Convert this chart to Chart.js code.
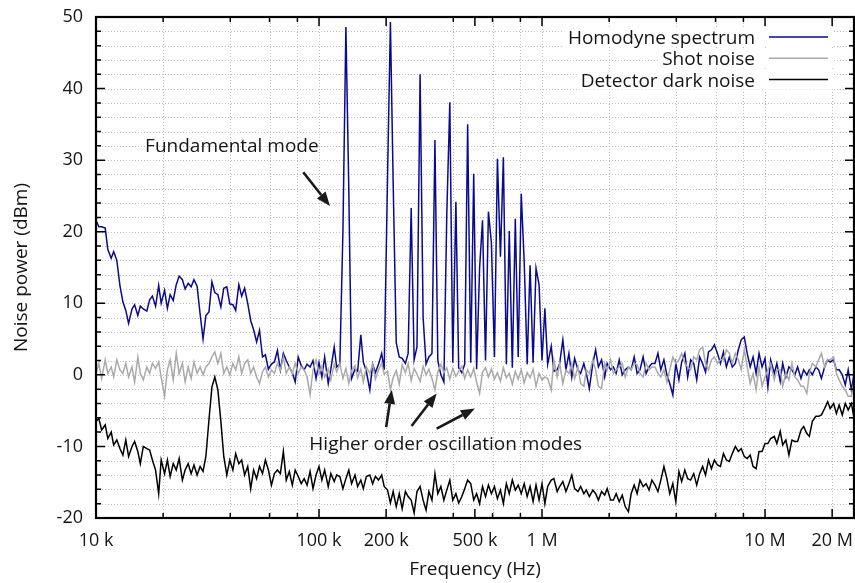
<!DOCTYPE html>
<html>
<head>
<meta charset="utf-8">
<script src="https://cdn.jsdelivr.net/npm/chart.js@4.4.1/dist/chart.umd.min.js"></script>
<style>
  html, body { margin: 0; padding: 0; background: #fff; }
  #wrap { width: 855px; height: 583px; }
</style>
</head>
<body>
<div id="wrap"><canvas id="spectrumChart"></canvas></div>

<script>
  // sweep frequencies in kHz (log spaced, 75 points per decade)
  const freqKHz = [
    10.0, 10.3, 10.6, 11.0, 11.3, 11.7, 12.0, 12.4, 12.8, 13.2,
    13.6, 14.0, 14.5, 14.9, 15.4, 15.8, 16.3, 16.9, 17.4, 17.9,
    18.5, 19.1, 19.6, 20.3, 20.9, 21.5, 22.2, 22.9, 23.6, 24.4,
    25.1, 25.9, 26.7, 27.5, 28.4, 29.3, 30.2, 31.1, 32.1, 33.1,
    34.1, 35.2, 36.3, 37.4, 38.6, 39.8, 41.1, 42.3, 43.7, 45.0,
    46.4, 47.9, 49.4, 50.9, 52.5, 54.1, 55.8, 57.5, 59.3, 61.2,
    63.1, 65.1, 67.1, 69.2, 71.3, 73.6, 75.9, 78.2, 80.7, 83.2,
    85.8, 88.4, 91.2, 94.0, 97.0,
    100, 103, 106, 110, 113, 117, 120, 124, 128, 132,
    136, 140, 145, 149, 154, 158, 163, 169, 174, 179,
    185, 191, 196, 203, 209, 215, 222, 229, 236, 244,
    251, 259, 267, 275, 284, 293, 302, 311, 321, 331,
    341, 352, 363, 374, 386, 398, 411, 423, 437, 450,
    464, 479, 494, 509, 525, 541, 558, 575, 593, 612,
    631, 651, 671, 692, 713, 736, 759, 782, 807, 832,
    858, 884, 912, 940, 970,
    1000, 1030, 1060, 1100, 1130, 1170, 1200, 1240, 1280, 1320,
    1360, 1400, 1450, 1490, 1540, 1580, 1630, 1690, 1740, 1790,
    1850, 1910, 1960, 2030, 2090, 2150, 2220, 2290, 2360, 2440,
    2510, 2590, 2670, 2750, 2840, 2930, 3020, 3110, 3210, 3310,
    3410, 3520, 3630, 3740, 3860, 3980, 4110, 4230, 4370, 4500,
    4640, 4790, 4940, 5090, 5250, 5410, 5580, 5750, 5930, 6120,
    6310, 6510, 6710, 6920, 7130, 7360, 7590, 7820, 8070, 8320,
    8580, 8840, 9120, 9400, 9700,
    10000, 10300, 10600, 11000, 11300, 11700, 12000, 12400, 12800, 13200,
    13600, 14000, 14500, 14900, 15400, 15800, 16300, 16900, 17400, 17900,
    18500, 19100, 19600, 20300, 20900, 21500, 22200, 22900, 23600, 24400,
    25100
  ];

  // noise power in dBm, one value per frequency
  const homodyne = [
    21.6, 20.7, 20.7, 20.5, 17.5, 16.3, 17.2, 16.0, 12.5, 10.2,
    9.0, 7.2, 9.2, 9.8, 8.3, 9.6, 9.2, 8.9, 10.5, 11.0,
    9.6, 12.5, 10.0, 11.8, 9.3, 11.2, 10.4, 12.6, 13.8, 13.3,
    12.0, 12.8, 12.3, 13.3, 12.4, 8.5, 5.0, 8.3, 8.8, 13.0,
    11.5, 11.2, 9.5, 12.1, 12.3, 9.9, 9.8, 9.0, 12.6, 11.0,
    12.1, 10.0, 7.6, 6.3, 4.6, 6.2, 2.5, 2.8, 0.8, 1.5,
    1.8, 3.4, 0.7, 3.0, 2.0, 1.1, 0.3, -1.0, 2.5, 1.3,
    0.7, 1.5, 1.1, 2.0, -0.5, 1.7, -0.3, 2.5, -1.2, 0.8,
    3.9, 1.1, 1.5, 20.0, 48.6, 26.0, -0.5, 0.8, 0.5, 5.6,
    1.8, 0.5, -2.1, 1.5, 0.3, 1.5, 3.0, 0.7, 28.0, 49.3,
    27.0, 4.5, 2.5, 2.3, 1.6, 3.0, 23.3, 2.1, 3.9, 42.0,
    8.0, 1.5, 2.5, 3.0, 32.8, 2.0, 0.0, -1.0, 22.3, 38.1,
    1.7, 24.2, 1.0, 0.3, 1.5, 35.0, 1.7, 28.1, 0.8, 15.0,
    21.6, 2.0, 22.8, 18.4, 2.5, 30.2, 16.5, 30.4, 1.5, 20.1,
    1.0, 21.8, 2.5, 25.3, 15.8, 1.5, 15.3, 1.7, 14.9, 12.6,
    2.0, 9.3, 1.5, 4.0, 0.5, 0.7, 1.6, 4.9, 0.7, 3.0,
    -0.3, 2.3, 0.7, 0.2, 1.6, 0.2, -1.9, 1.6, 3.5, 1.1,
    2.1, -0.3, 1.6, 0.7, 1.1, 0.2, 2.1, 0.0, 0.7, 1.1,
    0.7, 2.5, 0.2, 0.7, 2.5, 0.2, 1.1, 1.6, 1.6, 3.0,
    0.7, 2.1, 0.0, -1.2, -2.8, 1.6, -0.7, 1.8, 3.0, -0.3,
    2.1, 1.6, -0.7, 2.5, 1.6, 0.4, 3.2, 3.5, 4.2, 3.0,
    1.6, 3.2, 1.1, 2.5, 1.1, 1.6, 3.5, 4.9, 5.3, 3.0,
    1.1, 2.5, 0.2, 3.0, 1.1, 2.3, -1.7, 2.1, 0.2, 1.6,
    -0.9, 1.6, -0.3, 1.1, 0.7, 0.0, 1.1, -0.5, 0.7, 0.0,
    0.7, 0.0, 1.1, 0.7, -0.5, 1.1, 2.1, 1.8, 2.1, 0.7,
    0.7, 0.0, -1.4, 0.7, -2.1, 0.2
  ];

  const shotNoise = [
    0.2, 1.6, -0.5, 2.1, 0.2, 1.1, -0.3, 2.1, 0.7, 0.2,
    1.6, -0.3, 1.1, -1.0, 2.5, 0.2, -0.7, 1.1, 0.2, 1.6,
    0.9, 1.8, -0.3, -3.0, 0.7, 2.1, -0.7, 3.0, 0.2, 1.6,
    -1.0, 1.1, -0.5, 1.8, 0.2, 1.1, 0.0, 1.1, 1.6, 2.5,
    3.2, 1.6, 3.0, 0.2, 1.1, 0.0, 1.6, 0.7, 2.5, 0.2,
    1.6, 2.1, 0.2, 1.1, -0.3, -1.2, 0.4, 1.1, -0.3, 0.7,
    0.2, 1.6, 0.7, 2.5, 0.2, 1.1, 0.2, 1.6, 0.2, 1.1,
    0.7, -0.3, -2.8, 0.7, 2.1, 0.2, 1.2, -0.3, 0.8, -0.7,
    1.5, 0.4, 1.6, -0.5, 0.9, -1.2, 0.6, 1.3, -0.4, 0.8,
    -1.0, 1.1, 0.2, 1.5, -0.6, 0.7, 1.6, 0.1, 0.5, -2.1,
    -0.4, 0.6, -1.3, 1.4, 0.3, 1.6, -0.8, 0.9, 0.1, -0.9,
    1.2, 0.0, 0.8, -0.5, -2.1, 0.4, 1.5, 0.3, 1.0, -0.6,
    0.9, -0.2, 0.5, 1.2, -0.5, 0.7, -0.3, 0.9, -1.0, -2.6,
    0.4, 1.0, -0.3, 0.8, -0.6, 0.3, -0.9, 1.0, -0.4, 0.2,
    -1.3, 0.5, -0.6, 0.7, -1.1, 0.3, -0.4, 0.8, -1.6, 0.2,
    -0.7, -0.3, -0.5, -2.1, 2.1, -0.3, 1.6, -1.2, 0.7, 0.2,
    1.6, -0.5, 1.1, -1.2, -1.6, 0.7, 0.2, 2.1, 0.7, -1.6,
    -1.9, 1.6, 0.7, 2.1, 0.2, 0.7, 1.1, 1.6, -0.3, 1.1,
    0.7, 1.6, 1.4, 0.2, -0.3, 1.6, 0.7, 1.1, 1.1, 0.2,
    -0.3, 0.7, -1.0, 0.7, 2.5, 1.6, 2.1, 3.0, 1.6, 1.1,
    0.7, 2.5, 2.1, 3.5, 3.9, 1.6, 0.7, 2.1, 2.5, 1.6,
    2.1, 2.1, 3.5, 3.0, 1.6, 3.0, 2.1, 0.7, 3.5, 1.1,
    -1.2, 0.2, -2.1, 1.1, -1.6, -0.3, 0.7, 1.6, -0.7, 0.7,
    0.7, -1.6, 0.2, -0.7, 1.6, -0.3, -0.7, -1.6, -1.6, -2.6,
    0.2, 1.6, 1.1, 2.1, 3.0, 1.1, 2.1, 2.1, 2.5, 0.2,
    -0.7, -1.6, -2.1, -3.0, -3.0, -0.7
  ];

  const darkNoise = [
    -6.5, -6.1, -7.7, -7.0, -8.9, -8.0, -9.8, -9.1, -10.3, -11.2,
    -9.1, -11.4, -10.0, -9.3, -10.7, -12.4, -10.0, -10.3, -10.5, -11.9,
    -13.3, -16.6, -11.9, -13.8, -11.9, -14.2, -12.4, -13.3, -11.7, -14.7,
    -13.3, -12.4, -13.8, -12.6, -14.0, -12.8, -13.5, -11.4, -6.3, -1.7,
    -0.3, -2.1, -6.5, -11.4, -14.0, -11.9, -13.3, -11.0, -12.4, -11.9,
    -14.0, -12.8, -15.9, -13.3, -14.5, -12.8, -13.8, -11.9, -13.3, -15.4,
    -13.8, -13.3, -13.8, -10.7, -14.7, -13.5, -15.4, -13.3, -14.2, -15.2,
    -14.5, -15.4, -13.5, -15.9, -14.0, -12.8, -14.7, -13.3, -15.6, -13.8,
    -14.9, -14.0, -14.2, -15.9, -14.5, -13.3, -15.2, -14.0, -15.6, -14.7,
    -15.9, -14.2, -14.0, -15.2, -14.2, -14.7, -14.0, -15.6, -16.1, -17.9,
    -16.3, -18.4, -16.6, -18.7, -16.3, -17.0, -17.5, -19.3, -16.3, -15.6,
    -17.5, -18.9, -16.3, -17.5, -13.8, -16.6, -15.6, -17.5, -16.1, -14.7,
    -17.5, -16.6, -17.9, -17.0, -15.9, -14.7, -15.2, -17.5, -16.6, -18.0,
    -15.6, -17.0, -15.4, -16.6, -15.6, -17.3, -16.1, -18.0, -15.2, -16.6,
    -14.7, -16.1, -15.4, -16.6, -15.2, -17.0, -15.6, -17.7, -15.4, -17.5,
    -15.2, -18.0, -15.6, -14.7, -14.5, -16.3, -15.6, -14.9, -16.3, -15.2,
    -14.0, -15.9, -16.3, -15.6, -16.6, -16.1, -17.0, -16.1, -16.6, -17.5,
    -16.3, -16.8, -15.9, -17.5, -17.5, -16.6, -17.7, -16.8, -18.4, -19.1,
    -16.6, -15.4, -16.6, -14.7, -15.6, -15.2, -16.1, -14.7, -15.4, -16.3,
    -14.7, -12.8, -14.5, -16.6, -15.2, -17.7, -13.5, -14.9, -13.3, -14.5,
    -14.7, -13.8, -15.4, -13.8, -12.8, -14.0, -11.9, -13.1, -11.9, -12.6,
    -12.8, -11.0, -11.9, -12.1, -11.0, -10.0, -10.7, -10.3, -11.4, -11.7,
    -11.2, -12.8, -13.1, -10.7, -10.7, -9.6, -9.6, -8.9, -8.6, -9.6,
    -7.9, -9.8, -9.1, -11.2, -9.1, -9.3, -9.3, -7.7, -7.2, -8.2,
    -8.6, -6.5, -5.8, -5.8, -5.6, -4.7, -3.75, -4.7, -4.0, -5.4,
    -4.2, -5.6, -4.0, -4.9, -4.0, -6.1
  ];

  const seriesNames = ['Homodyne spectrum', 'Shot noise', 'Detector dark noise'];
  const seriesColors = ['#0a0a8e', '#a9a9a9', '#000000'];

  // x axis: tick positions (Hz), labelled ones and dotted grid positions
  const xTickValues = [1e4, 2e4, 4e4, 6e4, 8e4, 1e5, 2e5, 4e5, 5e5, 6e5, 8e5,
                       1e6, 2e6, 4e6, 6e6, 8e6, 1e7, 2e7];
  const xTickLabels = {1e4: '10 k', 1e5: '100 k', 2e5: '200 k', 5e5: '500 k',
                       1e6: '1 M', 1e7: '10 M', 2e7: '20 M'};
  const xGridValues = [2e4, 4e4, 6e4, 8e4, 1e5, 2e5, 4e5, 6e5, 8e5,
                       1e6, 2e6, 4e6, 6e6, 8e6, 1e7, 2e7];

  // annotations, in data coordinates (Hz, dBm)
  const noteTexts = ['Fundamental mode', 'Higher order oscillation modes'];
  const noteFreq = [16.6e3, 90.5e3];
  const noteLevel = [31.9, -9.8];
  // arrows: [fromHz, fromDbm, toHz, toDbm]
  const arrows = [
    [85.0e3, 28.3, 112e3, 23.6],
    [200e3, -7.3, 212e3, -2.1],
    [260e3, -7.15, 337e3, -2.6],
    [337e3, -7.5, 500e3, -4.7]
  ];

  const font = "'Open Sans', sans-serif";
  const textColor = '#151515';

  const toPoints = (vals) => freqKHz.map((f, i) => ({x: f * 1000, y: vals[i]}));

  // dotted grid underneath, frame + inward tick marks on top
  const frameAndGrid = {
    id: 'frameAndGrid',
    beforeDatasetsDraw(chart) {
      const {ctx, chartArea: a, scales: {x, y}} = chart;
      ctx.save();
      ctx.strokeStyle = '#bdbdbd';
      ctx.lineWidth = 1;
      ctx.setLineDash([1, 2]);
      xGridValues.forEach((v) => {
        const px = Math.round(x.getPixelForValue(v)) + 0.5;
        ctx.beginPath();
        ctx.moveTo(px, a.top);
        ctx.lineTo(px, a.bottom);
        ctx.stroke();
      });
      y.ticks.forEach((t) => {
        if (t.value <= y.min || t.value >= y.max) return;
        const py = Math.round(y.getPixelForValue(t.value)) + 0.5;
        ctx.beginPath();
        ctx.moveTo(a.left, py);
        ctx.lineTo(a.right, py);
        ctx.stroke();
      });
      ctx.restore();
    },
    afterDatasetsDraw(chart) {
      const {ctx, chartArea: a, scales: {x, y}} = chart;
      ctx.save();
      ctx.strokeStyle = '#000';
      ctx.lineWidth = 1.5;
      x.ticks.forEach((t) => {
        const px = x.getPixelForValue(t.value);
        const len = xTickLabels[t.value] ? 9 : 5;
        ctx.beginPath();
        ctx.moveTo(px, a.bottom); ctx.lineTo(px, a.bottom - len);
        ctx.moveTo(px, a.top); ctx.lineTo(px, a.top + len);
        ctx.stroke();
      });
      y.ticks.forEach((t) => {
        const py = y.getPixelForValue(t.value);
        const len = t.value % 10 === 0 ? 9 : 5;
        ctx.beginPath();
        ctx.moveTo(a.left, py); ctx.lineTo(a.left + len, py);
        ctx.moveTo(a.right, py); ctx.lineTo(a.right - len, py);
        ctx.stroke();
      });
      ctx.lineWidth = 2.2;
      ctx.strokeRect(a.left, a.top, a.right - a.left, a.bottom - a.top);
      ctx.restore();
    }
  };

  // key in the top right corner: text, then a short line sample
  const sideLegend = {
    id: 'sideLegend',
    afterDraw(chart) {
      const {ctx, chartArea: a} = chart;
      ctx.save();
      ctx.font = '19px ' + font;
      ctx.textAlign = 'right';
      ctx.textBaseline = 'middle';
      chart.data.datasets.forEach((ds, k) => {
        const yy = a.top + 20 + k * 21.3;
        const textRight = a.right - 99;
        const w = ctx.measureText(ds.label).width;
        ctx.fillStyle = '#fff';
        ctx.fillRect(textRight - w - 4, yy - 10, w + 4 + 99 - 20, 20);
        ctx.fillStyle = textColor;
        ctx.fillText(ds.label, textRight, yy + 1.5);
        ctx.strokeStyle = ds.borderColor;
        ctx.lineWidth = 1.5;
        ctx.beginPath();
        ctx.moveTo(a.right - 85, yy);
        ctx.lineTo(a.right - 26, yy);
        ctx.stroke();
      });
      ctx.restore();
    }
  };

  const notesAndArrows = {
    id: 'notesAndArrows',
    afterDraw(chart) {
      const {ctx, scales: {x, y}} = chart;
      ctx.save();
      ctx.font = '19px ' + font;
      ctx.fillStyle = textColor;
      ctx.textAlign = 'left';
      ctx.textBaseline = 'middle';
      noteTexts.forEach((txt, i) => {
        ctx.fillText(txt, x.getPixelForValue(noteFreq[i]), y.getPixelForValue(noteLevel[i]));
      });
      ctx.strokeStyle = '#1a1a1a';
      ctx.fillStyle = '#1a1a1a';
      arrows.forEach(([f0, v0, f1, v1]) => {
        const x0 = x.getPixelForValue(f0), y0 = y.getPixelForValue(v0);
        const x1 = x.getPixelForValue(f1), y1 = y.getPixelForValue(v1);
        const ang = Math.atan2(y1 - y0, x1 - x0);
        const head = 14, half = 5.5;
        const bx = x1 - head * Math.cos(ang), by = y1 - head * Math.sin(ang);
        ctx.lineWidth = 2.6;
        ctx.beginPath();
        ctx.moveTo(x0, y0);
        ctx.lineTo(bx, by);
        ctx.stroke();
        ctx.beginPath();
        ctx.moveTo(x1, y1);
        ctx.lineTo(bx + half * Math.sin(ang), by - half * Math.cos(ang));
        ctx.lineTo(bx - half * Math.sin(ang), by + half * Math.cos(ang));
        ctx.closePath();
        ctx.fill();
      });
      ctx.restore();
    }
  };

  new Chart('spectrumChart', {
    type: 'line',
    data: {
      datasets: [
        {label: seriesNames[0], data: toPoints(homodyne), borderColor: seriesColors[0], order: 3},
        {label: seriesNames[1], data: toPoints(shotNoise), borderColor: seriesColors[1], order: 2},
        {label: seriesNames[2], data: toPoints(darkNoise), borderColor: seriesColors[2], order: 1}
      ]
    },
    options: {
      responsive: true,
      maintainAspectRatio: false,
      devicePixelRatio: 1,
      animation: false,
      layout: {padding: {top: 17, right: 1, bottom: 0, left: 0}},
      elements: {
        point: {radius: 0},
        line: {borderWidth: 1.5, tension: 0, fill: false}
      },
      scales: {
        x: {
          type: 'logarithmic',
          min: 1e4,
          max: 2.506e7,
          // tick marks are drawn by the plugin; tickLength only spaces the labels
          grid: {display: false, drawTicks: true, tickLength: 12},
          border: {display: false},
          afterBuildTicks(axis) {
            axis.ticks = xTickValues.map((v) => ({value: v}));
          },
          afterFit(axis) { axis.height = 65; },
          ticks: {
            autoSkip: false,
            maxRotation: 0,
            padding: 0,
            color: textColor,
            font: {family: font, size: 18},
            callback: (v) => xTickLabels[v] || ''
          },
          title: {
            display: true,
            text: 'Frequency (Hz)',
            color: textColor,
            font: {family: font, size: 19},
            padding: {top: 0, bottom: 2}
          }
        },
        y: {
          min: -20,
          max: 50,
          grid: {display: false, drawTicks: true, tickLength: 13},
          border: {display: false},
          afterFit(axis) { axis.width = 96; },
          ticks: {
            stepSize: 2,
            autoSkip: false,
            padding: 0,
            color: textColor,
            font: {family: font, size: 18},
            callback: (v) => (v % 10 === 0 ? String(v) : '')
          },
          title: {
            display: true,
            text: 'Noise power (dBm)',
            color: textColor,
            font: {family: font, size: 19},
            padding: {top: 10, bottom: 0}
          }
        }
      },
      plugins: {
        legend: {display: false},
        tooltip: {enabled: false}
      }
    },
    plugins: [frameAndGrid, sideLegend, notesAndArrows]
  });
</script>
</body>
</html>
